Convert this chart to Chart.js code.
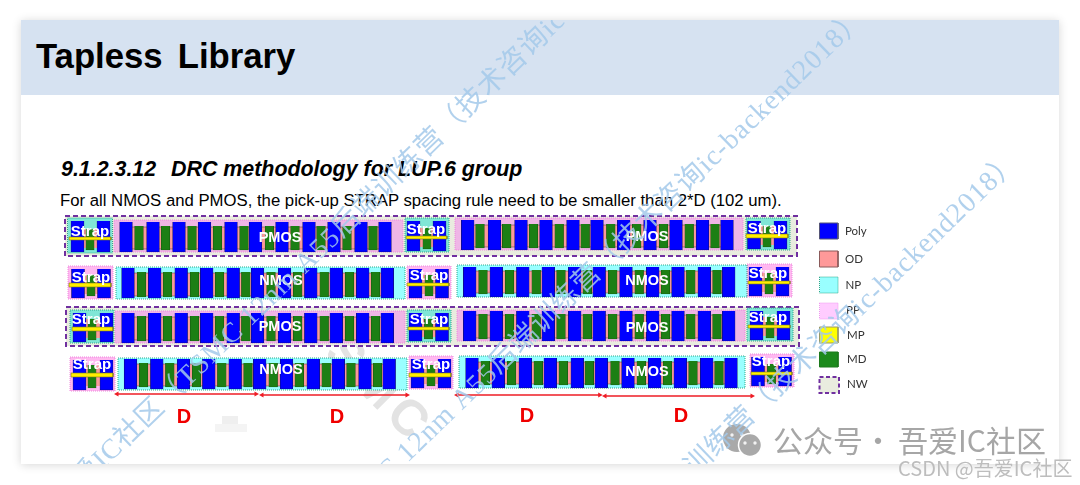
<!DOCTYPE html>
<html>
<head>
<meta charset="utf-8">
<script src="https://cdn.jsdelivr.net/npm/chart.js@4"></script>
<style>
  html, body { margin: 0; padding: 0; width: 1080px; height: 485px; overflow: hidden; background: #fff; }
  #slide { position: absolute; left: 21px; top: 20px; width: 1038px; height: 444px; background: #fff; box-shadow: 0 1px 9px rgba(0,0,0,.16); }
  #banner { position: absolute; left: 21px; top: 20px; width: 1038px; height: 75px; background: #d6e2f1; }
  .txt { position: absolute; white-space: pre; color: #000; font-family: "Liberation Sans", Arial, sans-serif; }
  #title { left: 36px; top: 36px; font-size: 34.7px; line-height: 40px; font-weight: bold; word-spacing: 5.5px; }
  #sec { left: 61px; top: 157px; font-size: 21.4px; line-height: 24px; font-weight: bold; font-style: italic; }
  #sec2 { left: 171px; top: 157px; font-size: 21.4px; line-height: 24px; font-weight: bold; font-style: italic; }
  #rule { left: 60px; top: 191px; font-size: 16.73px; line-height: 20px; }
  canvas { position: absolute; left: 0; top: 0; }
</style>
</head>
<body>
<div id="slide"></div>
<div id="banner"></div>
<div class="txt" id="title">Tapless Library</div>
<div class="txt" id="sec">9.1.2.3.12</div>
<div class="txt" id="sec2">DRC methodology for LUP.6 group</div>
<div class="txt" id="rule">For all NMOS and PMOS, the pick-up STRAP spacing rule need to be smaller than 2*D (102 um).</div>
<canvas id="c" width="1080" height="485"></canvas>
<script>
// Bloques principales: fila 1-4 izquierda, fila 1-4 derecha
const blockKind = ["PMOS", "NMOS", "PMOS", "NMOS", "PMOS", "NMOS", "PMOS", "NMOS"];
const blockLeft = [114, 116, 115, 118, 455, 457, 457, 459];
const blockRight = [403, 405, 405, 407, 743, 747, 745, 745];
const blockTop = [220, 267, 311, 358, 218, 265, 310, 356];
const blockBottom = [252, 299, 343, 390, 250, 297, 341, 388];
const polyTop = [222, 268, 313, 359, 220, 267, 311, 358];
const polyBottom = [252, 298, 343, 389, 250, 297, 341, 388];
const mdTop = [226, 272, 316, 363, 224, 270, 314, 361];
const mdBottom = [250, 297, 341, 387, 248, 294, 339, 385];

const polyCenters = [
  [126, 153, 179, 204.5, 231, 255.5, 282, 309, 334, 361, 385],
  [128, 154.7, 181.2, 206.7, 233.2, 257.5, 284.5, 310.8, 336.3, 362.7, 387.3],
  [128, 154.7, 181.2, 206.7, 233.2, 257.5, 284.5, 310.8, 336.3, 362.7, 387.3],
  [130.5, 156.8, 183.5, 208.8, 235.2, 259.7, 286.5, 313.3, 338.3, 365, 389.2],
  [467.7, 494.5, 521, 546, 573, 597, 623.7, 650, 676, 702.5, 727],
  [469.7, 496.3, 522.8, 548.3, 574.7, 599.2, 626, 652.7, 678, 704.3, 728.7],
  [469.7, 496.3, 522.8, 548.3, 574.7, 599.2, 626, 652.7, 678, 704.3, 728.7],
  [472, 498.3, 525.3, 550.3, 577.3, 601.3, 628, 654.7, 680.3, 706.7, 731]
];
const mdCenters = [
  [139, 165.5, 192, 217.5, 244, 269.5, 295, 321, 347, 373],
  [141.5, 167.5, 194.5, 219.5, 245.8, 271, 297.7, 324.2, 349.5, 375.5],
  [141.5, 167.5, 194.5, 219.5, 245.8, 271, 297.7, 324.2, 349.5, 375.5],
  [143.5, 169.8, 196.5, 221.8, 248, 273.2, 299.3, 326.2, 351, 377.5],
  [480, 506.7, 533.5, 559.2, 585.2, 610.8, 636.7, 663.5, 689.2, 715],
  [483, 509.5, 536.2, 561, 587.3, 612.7, 639.2, 665.5, 690.8, 717],
  [483, 509.5, 536.2, 561, 587.3, 612.7, 639.2, 665.5, 690.8, 717],
  [485.3, 511.5, 538.3, 563.3, 589.3, 615, 641.3, 667.5, 693, 719]
];

// Celdas Strap: tres por fila
const strapKind = ["NP", "NP", "NP", "PP", "PP", "PP", "NP", "NP", "NP", "PP", "PP", "PP"];
const strapLeft = [67.5, 405, 746, 68, 407, 747, 70, 407, 747, 70, 409, 750];
const strapRight = [112.5, 449, 790, 113, 451, 792, 114, 451, 793, 115, 453, 794];
const strapTop = [218, 218, 218, 266, 266, 264, 310, 310, 308, 357, 356, 354];
const strapBottom = [253, 252, 250, 299, 299, 297, 343, 342, 341, 391, 389, 387];
const strapPolyA = [77.5, 413.5, 754, 78, 415.5, 755.5, 79.5, 415.5, 756.5, 79.5, 417.5, 758];
const strapPolyB = [103.5, 439.5, 780.5, 104, 442, 782.5, 106.5, 442, 783.5, 106.5, 444.5, 785];
const strapMd = [90, 427, 767, 91, 429, 769, 92, 428.5, 770, 92, 431, 771.5];
const strapBarLeft = [69, 406, 746, 69, 407, 748, 72, 408, 748, 71, 409, 751];
const strapBarRight = [111, 447, 788, 111, 449, 790, 113, 449, 790, 113, 451, 792];
const strapBarTop = [237, 236, 234, 283, 283, 281, 327, 327, 325, 373, 373, 372];
const strapBarBottom = [240, 239, 238, 287, 286, 284, 331, 330, 328, 377, 377, 375];
const strapTextX = [90, 426, 767, 91, 429, 768, 91, 429, 768, 92, 431, 771];
const strapTextY = [232, 230, 229, 278, 276, 274, 320, 320, 318, 365, 365, 362];

// Cajas NW (filas PMOS)
const nwLeft = [65, 66];
const nwRight = [797, 799];
const nwTop = [216, 307];
const nwBottom = [256, 346];

// Flechas D
const arrowLeft = [115, 260, 455, 603];
const arrowRight = [258, 409, 601.7, 754];
const arrowY = [394, 395, 395, 396];
const dLabelX = [184, 337, 527, 681];
const dLabelY = [417, 417, 416, 416];

const mosLabelX = [280, 281, 280, 281, 647, 647, 647, 647];
const mosLabelY = [238, 281, 327, 370, 237, 281, 328, 372];

// Leyenda
const legendNames = ["Poly", "OD", "NP", "PP", "MP", "MD", "NW"];
const legendTop = [223, 251, 277, 303, 327, 352, 377];
const legendBottom = [239, 267, 293, 319, 343, 367, 393];
const legendTextX = [845, 845, 845.5, 846, 847, 847, 847];
const legendTextY = [231, 259.5, 285, 310, 335, 359, 384];

const COL = {
  poly: "#0000ff", polyEdge: "#101060", md: "#1c7f14", mdEdge: "#14500f", od: "#fa9a9a", odEdge: "#6a4a4a",
  np: "#99ffff", npEdge: "#2fa88a", npStrap: "#80e6d6", pp: "#efb6e6", ppStrap: "#ffb8f0", ppEdge: "#ee88dd",
  nw: "#e9ecdf", nwEdge: "#7030a0", mp: "#ffee00", red: "#ee1c25"
};

const datasets = [];

// Un rectángulo: relleno hasta el valor inferior y contorno aparte, encima del relleno
function addBox(l, t, r, b, fillColor, edge, edgeWidth, dash, order) {
  datasets.push({
    type: "line",
    data: [{x: l, y: t}, {x: r, y: t}],
    backgroundColor: fillColor,
    borderColor: "transparent",
    borderWidth: 0,
    fill: {target: {value: b}},
    pointRadius: 0,
    order: order
  });
  if (edge) {
    datasets.push({
      type: "line",
      data: [{x: l, y: t}, {x: r, y: t}, {x: r, y: b}, {x: l, y: b}, {x: l, y: t}],
      borderColor: edge,
      borderWidth: edgeWidth,
      borderDash: dash || [],
      fill: false,
      pointRadius: 0,
      tension: 0,
      order: order - 0.5
    });
  }
}

// NW
nwLeft.forEach((l, i) => addBox(l, nwTop[i], nwRight[i], nwBottom[i], COL.nw, COL.nwEdge, 2, [5, 3], 90));

// Fondos PP / NP y banda OD de cada bloque
blockKind.forEach((kind, i) => {
  const isP = kind === "PMOS";
  addBox(blockLeft[i], blockTop[i], blockRight[i], blockBottom[i], isP ? COL.pp : COL.np, isP ? COL.ppEdge : COL.npEdge, 1, [1, 1], 80);
  const p = polyCenters[i];
  addBox(p[0], mdTop[i] + 1, p[p.length - 1], mdBottom[i] - 1, COL.od, COL.odEdge, 0.6, [], 70);
});

// Celdas Strap
strapKind.forEach((kind, i) => {
  const isN = kind === "NP";
  addBox(strapLeft[i], strapTop[i], strapRight[i], strapBottom[i], isN ? COL.npStrap : COL.ppStrap, isN ? COL.npEdge : COL.ppEdge, 1, [1, 1], 80);
  addBox(strapPolyA[i], strapBarTop[i] - 8, strapPolyB[i], strapBottom[i] - 5, COL.od, null, 0, [], 70);
  addBox(strapBarLeft[i], strapBarTop[i], strapBarRight[i], strapBarBottom[i], COL.mp, "#7a7a20", 0.6, [], 40);
});

// MD y Poly como barras flotantes
const mdData = [];
const polyData = [];
mdCenters.forEach((row, i) => row.forEach(x => mdData.push({x: x, y: [mdTop[i], mdBottom[i]]})));
polyCenters.forEach((row, i) => row.forEach(x => polyData.push({x: x, y: [polyTop[i], polyBottom[i]]})));
const strapMdData = strapMd.map((x, i) => ({x: x, y: [strapBarTop[i] - 8, strapBottom[i] - 3]}));
const strapPolyData = [];
strapPolyA.forEach((x, i) => {
  strapPolyData.push({x: x, y: [strapTop[i] + 3, strapBottom[i] - 1]});
  strapPolyData.push({x: strapPolyB[i], y: [strapTop[i] + 3, strapBottom[i] - 1]});
});
datasets.push({type: "bar", data: mdData, backgroundColor: COL.md, borderColor: COL.mdEdge, borderWidth: 0.6, barThickness: 8.7, grouped: false, order: 60});
datasets.push({type: "bar", data: strapMdData, backgroundColor: COL.md, borderColor: COL.mdEdge, borderWidth: 0.6, barThickness: 8.2, grouped: false, order: 60});
datasets.push({type: "bar", data: polyData, backgroundColor: COL.poly, borderColor: COL.polyEdge, borderWidth: 0.6, barThickness: 12.7, grouped: false, order: 50});
datasets.push({type: "bar", data: strapPolyData, backgroundColor: COL.poly, borderColor: COL.polyEdge, borderWidth: 0.6, barThickness: 13, grouped: false, order: 50});

// Flechas rojas
arrowLeft.forEach((l, i) => {
  datasets.push({
    type: "line",
    data: [{x: l + 2, y: arrowY[i]}, {x: arrowRight[i] - 2, y: arrowY[i]}],
    borderColor: COL.red,
    backgroundColor: COL.red,
    borderWidth: 1.3,
    pointStyle: "triangle",
    pointRadius: 3,
    pointBorderWidth: 0,
    pointRotation: [-90, 90],
    order: 30
  });
});

// Muestras de la leyenda
const legendFill = [COL.poly, "#ff9999", COL.np, "#ffccff", "#ffff00", "#1c8a1c", COL.nw];
const legendEdge = ["#555577", "#8a5a5a", COL.npEdge, "#ee99ee", "#999966", "#1c7a1c", COL.nwEdge];
const legendEdgeWidth = [1, 1, 1, 1, 1, 1, 2];
const legendDash = [[], [], [1, 1], [1, 1], [], [], [4, 2.5]];
legendNames.forEach((n, i) => {
  const right = n === "NW" ? 839 : 838;
  addBox(819.5, legendTop[i], right, legendBottom[i], legendFill[i], legendEdge[i], legendEdgeWidth[i], legendDash[i], 20);
});

// Mancha gris pixelada bajo el primer D
addBox(215, 424, 247, 432, "#f4f4f4", null, 0, [], 95);
addBox(222, 416, 238, 424, "#efefef", null, 0, [], 95);

// Icono de WeChat como puntos
const bubbleX = [737, 750];
const bubbleY = [438, 445];
const eyeX = [732, 742, 745, 755];
const eyeY = [435, 435, 443, 443];
datasets.push({
  type: "line", showLine: false,
  data: bubbleX.map((x, i) => ({x: x, y: bubbleY[i]})),
  pointRadius: [14, 11.5], backgroundColor: "#a9a9a9", borderColor: "#fff", pointBorderWidth: [0, 1.5], order: 10
});
datasets.push({
  type: "line", showLine: false,
  data: eyeX.map((x, i) => ({x: x, y: eyeY[i]})),
  pointRadius: 1.7, backgroundColor: "#f2f2f2", pointBorderWidth: 0, order: 9
});

function putText(ctx, text, x, y, font, color, align) {
  ctx.font = font;
  ctx.fillStyle = color;
  ctx.textAlign = align || "center";
  ctx.textBaseline = "middle";
  ctx.fillText(text, x, y);
}

// Marcas de agua azules: punto final de cada línea
const waterText = "吾爱IC社区（TSMC 12nm A55后端训练营（技术咨询ic-backend2018）";
const waterEndX = [705, 862, 1016];
const waterEndY = [-122, 14, 157];

const textPlugin = {
  id: "slideText",
  beforeDatasetsDraw(chart) {
    const ctx = chart.ctx;
    const xs = chart.scales.x, ys = chart.scales.y;
    ctx.save();
    ctx.translate(xs.getPixelForValue(365), ys.getPixelForValue(378));
    ctx.rotate(Math.PI / 4);
    ctx.letterSpacing = "6px";
    putText(ctx, "TSMC", 0, 0, "bold 50px 'Liberation Sans'", "#e3e3e3");
    ctx.restore();
  },
  afterDatasetsDraw(chart) {
    const ctx = chart.ctx;
    const xs = chart.scales.x, ys = chart.scales.y;
    const mos = "bold 14.5px 'Liberation Sans'";
    blockKind.forEach((k, i) => putText(ctx, k, xs.getPixelForValue(mosLabelX[i]), ys.getPixelForValue(mosLabelY[i]), mos, "#fff"));
    strapTextX.forEach((x, i) => putText(ctx, "Strap", xs.getPixelForValue(x), ys.getPixelForValue(strapTextY[i]), "bold 15px 'Liberation Sans'", "#fff"));
    dLabelX.forEach((x, i) => putText(ctx, "D", xs.getPixelForValue(x), ys.getPixelForValue(dLabelY[i]), "bold 20px 'Liberation Sans'", "#f00000"));
    legendNames.forEach((n, i) => putText(ctx, n, xs.getPixelForValue(legendTextX[i]), ys.getPixelForValue(legendTextY[i]), "11.5px Lato", "#333", "left"));

    // marcas de agua recortadas a la lámina
    ctx.save();
    ctx.beginPath();
    ctx.rect(21, 20, 1038, 444);
    ctx.clip();
    waterEndX.forEach((x, i) => {
      ctx.save();
      ctx.translate(xs.getPixelForValue(x), ys.getPixelForValue(waterEndY[i]));
      ctx.rotate(-44 * Math.PI / 180);
      ctx.letterSpacing = "1px";
      ctx.globalAlpha = 0.85;
      putText(ctx, waterText, 0, 0, "28px 'Liberation Serif','Noto Sans CJK SC'", "#a3c9ea", "right");
      ctx.restore();
    });
    ctx.restore();

    const footFont = "30px 'Noto Sans CJK SC'";
    putText(ctx, "公众号", xs.getPixelForValue(773), ys.getPixelForValue(441), footFont, "#a6a6a6", "left");
    putText(ctx, "·", xs.getPixelForValue(878), ys.getPixelForValue(441), footFont, "#a6a6a6");
    putText(ctx, "吾爱IC社区", xs.getPixelForValue(898), ys.getPixelForValue(441), footFont, "#a6a6a6", "left");
    putText(ctx, "CSDN @吾爱IC社区", xs.getPixelForValue(898), ys.getPixelForValue(468), "20px 'Noto Sans CJK SC'", "#bdbdbd", "left");
  }
};

new Chart(document.getElementById("c"), {
  type: "bar",
  data: {datasets: datasets},
  plugins: [textPlugin],
  options: {
    responsive: false,
    animation: false,
    events: [],
    layout: {padding: 0},
    plugins: {legend: {display: false}, title: {display: false}, tooltip: {enabled: false}},
    scales: {
      // el área útil queda 14 px adentro por el radio del icono
      x: {type: "linear", min: 14, max: 1066, display: false, offset: false},
      y: {type: "linear", min: 14, max: 471, reverse: true, display: false}
    }
  }
});
</script>
</body>
</html>
